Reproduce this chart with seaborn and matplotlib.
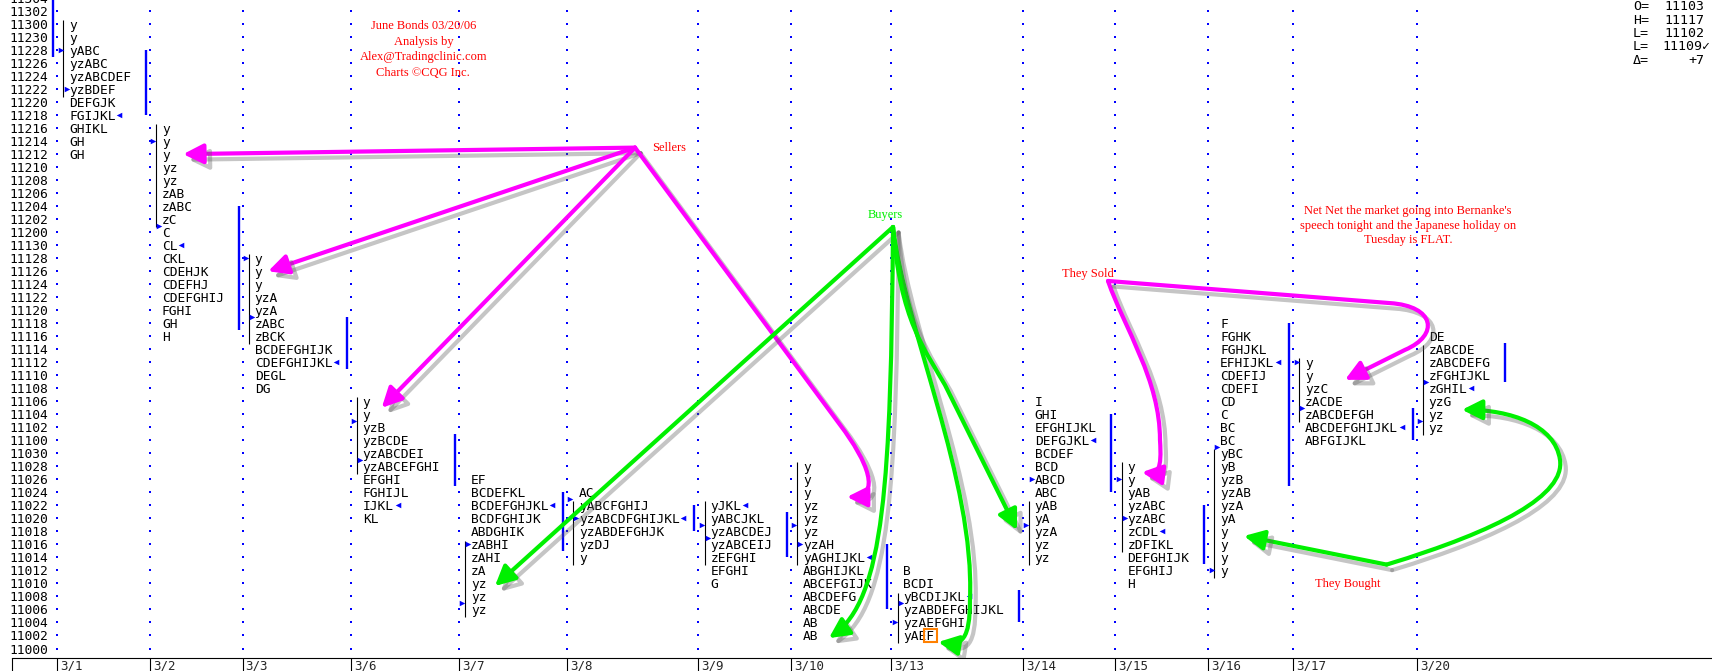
"""Market profile of June Bonds (CQG style) with seller/buyer annotations."""

import matplotlib

matplotlib.use("Agg")
import matplotlib.patheffects as pe
import matplotlib.pyplot as plt
import numpy as np
import pandas as pd
import seaborn as sns
from matplotlib.patches import ArrowStyle, FancyArrowPatch, Rectangle
from matplotlib.path import Path
from matplotlib.transforms import ScaledTranslation

# ---- data ---------------------------------------------------------------
DAYS = ["3/1", "3/2", "3/3", "3/6", "3/7", "3/8", "3/9",
        "3/10", "3/13", "3/14", "3/15", "3/16", "3/17", "3/20"]

# highest price of each day's profile (price in 32nds, e.g. 11216 = 112 16/32)
TOPS = ["11300", "11216", "11128", "11106", "11026", "11024", "11022",
        "11028", "11012", "11106", "11028", "11118", "11112", "11116"]

# TPO letters, one string per 2/32 row, top to bottom
PROFILES = [
    ["y", "y", "yABC", "yzABC", "yzABCDEF", "yzBDEF", "DEFGJK", "FGIJKL",
     "GHIKL", "GH", "GH"],
    ["y", "y", "y", "yz", "yz", "zAB", "zABC", "zC", "C", "CL", "CKL",
     "CDEHJK", "CDEFHJ", "CDEFGHIJ", "FGHI", "GH", "H"],
    ["y", "y", "y", "yzA", "yzA", "zABC", "zBCK", "BCDEFGHIJK",
     "CDEFGHIJKL", "DEGL", "DG"],
    ["y", "y", "yzB", "yzBCDE", "yzABCDEI", "yzABCEFGHI", "EFGHI",
     "FGHIJL", "IJKL", "KL"],
    ["EF", "BCDEFKL", "BCDEFGHJKL", "BCDFGHIJK", "ABDGHIK", "zABHI",
     "zAHI", "zA", "yz", "yz", "yz"],
    ["AC", "yABCFGHIJ", "yzABCDFGHIJKL", "yzABDEFGHJK", "yzDJ", "y"],
    ["yJKL", "yABCJKL", "yzABCDEJ", "yzABCEIJ", "zEFGHI", "EFGHI", "G"],
    ["y", "y", "y", "yz", "yz", "yz", "yzAH", "yAGHIJKL", "ABGHIJKL",
     "ABCEFGIJK", "ABCDEFG", "ABCDE", "AB", "AB"],
    ["B", "BCDI", "yBCDIJKL", "yzABDEFGHIJKL", "yzAEFGHI", "yAEF"],
    ["I", "GHI", "EFGHIJKL", "DEFGJKL", "BCDEF", "BCD", "ABCD", "ABC",
     "yAB", "yA", "yzA", "yz", "yz"],
    ["y", "y", "yAB", "yzABC", "yzABC", "zCDL", "zDFIKL", "DEFGHIJK",
     "EFGHIJ", "H"],
    ["F", "FGHK", "FGHJKL", "EFHIJKL", "CDEFIJ", "CDEFI", "CD", "C", "BC",
     "BC", "yBC", "yB", "yzB", "yzAB", "yzA", "yA", "y", "y", "y", "y"],
    ["y", "y", "yzC", "zACDE", "zABCDEFGH", "ABCDEFGHIJKL", "ABFGIJKL"],
    ["DE", "zABCDE", "zABCDEFG", "zFGHIJKL", "zGHIL", "yzG", "yz", "yz"],
]

OPEN_MARK = ["11228", "11214", "11128", "11103", "11007", "11023", "11019",
             "11019", "11004", "11019", "11026", "11012", "11112", "11103"]
MID_MARK = ["11222", "11201", "11119", "11029", "11016", "11020", "11017",
            "11016", "11007", "11026", "11020", "11031", "11105", "11109"]
CLOSE_MARK = ["11218", "11130", "11112", "11022", "11022", "11020", "11022",
              "11014", "11008", "11100", "11018", "11112", "11102", "11108"]

VA_LOW = ["11218", "11117", "11111", "11025", "11015", "11018", "11014",
          "11006", "11004", "11024", "11013", "11025", "11100", "11109"]
VA_HIGH = ["11228", "11204", "11119", "11101", "11024", "11022", "11021",
           "11016", "11009", "11104", "11022", "11118", "11105", "11115"]
PRIOR_VA = ("11227", "11310")

INFO_KEYS = ["O=", "H=", "L=", "L=", "Δ="]
INFO_VALUES = ["11103", "11117", "11102", "11109✓", "+7"]

# annotation arrows: (code, day, letter offset, price)
SELL = ("M", "3/8", 8.8, 11213)
BUY = ("M", "3/13", 0.2, 11200.8)
SOLD = ("M", "3/15", -0.97, 11124.5)
BOUGHT = ("M", "3/17", 12.1, 11012.9)
MAGENTA_ARROWS = [
    [SELL, ("L", "3/2", 4.3, 11212)],
    [SELL, ("L", "3/3", 3.3, 11126)],
    [SELL, ("L", "3/6", 4.0, 11105)],
    [SELL, ("L", "3/10", 6.33, 11102.4), ("C", "3/10", 9.96, 11028.7),
     ("C", "3/10", 11.77, 11023.3), ("C", "3/10", 7.24, 11023.3)],
    [SOLD, ("C", "3/15", 1.23, 11117.0), ("C", "3/15", 5.76, 11109.3),
     ("C", "3/15", 5.76, 11100.05), ("C", "3/15", 6.02, 11027.4),
     ("C", "3/15", 5.5, 11026.8), ("C", "3/15", 3.43, 11027.1)],
    [SOLD, ("L", "3/17", 12.53, 11121.1), ("C", "3/17", 18.35, 11120.65),
     ("C", "3/17", 19.0, 11116.2), ("C", "3/17", 14.47, 11113.9),
     ("L", "3/17", 6.71, 11109.3)],
]
GREEN_ARROWS = [
    [BUY, ("L", "3/7", 4.66, 11009.6)],
    [BUY, ("C", "3/13", -0.1, 11025.9), ("C", "3/13", -0.84, 11007.5),
     ("C", "3/10", 4.9, 11001.6)],
    [BUY, ("C", "3/13", 1.75, 11117.0), ("C", "3/13", 10.81, 11025.9),
     ("C", "3/13", 10.16, 11007.5), ("C", "3/13", 10.16, 11001.3),
     ("C", "3/13", 9.13, 11000.4), ("C", "3/13", 6.06, 11001.0)],
    [BUY, ("C", "3/13", 1.1, 11118.5), ("C", "3/13", 4.34, 11113.9),
     ("C", "3/13", 6.93, 11108.5), ("L", "3/14", -0.75, 11018.2)],
    [BOUGHT, ("L", "3/16", 4.64, 11017.3)],
    [BOUGHT, ("C", "3/20", 10.78, 11018.2), ("C", "3/20", 19.2, 11023.6),
     ("C", "3/20", 18.55, 11029.0), ("C", "3/20", 17.9, 11102.4),
     ("C", "3/20", 12.08, 11104.7), ("C", "3/20", 5.86, 11104.7)],
]

# ---- layout -------------------------------------------------------------
W, H = 1712, 671
CHAR = 7.724            # px per letter column
FIRST_COL = 57.3 / CHAR  # first day divider, in letter columns
LETTER_DX = 1.55
BLUE = "#0000ff"
RED = "#ff0000"
MAGENTA = "#ff00ff"
GREEN = "#00f000"
MONO = ["DejaVu Sans Mono", "DejaVu Sans"]
SERIF = ["Liberation Serif", "DejaVu Serif"]


def tick(price) -> float:
    p = float(price)
    handle = int(p // 100)
    return (handle - 110) * 32 + (p - handle * 100)


def label(t: int) -> str:
    return f"{110 + t // 32}{t % 32:02d}"


widths = [max(len(s) for s in prof) + 4 for prof in PROFILES]
starts = FIRST_COL + np.concatenate([[0], np.cumsum(widths)])
day_x = dict(zip(DAYS, starts[:-1]))


def point(day, dx, price):
    return day_x[day] + dx, tick(price)


def arrow(ax, spec, color):
    verts, codes = [], []
    for code, day, dx, price in spec:
        verts.append(point(day, dx, price))
        codes.append({"M": Path.MOVETO, "L": Path.LINETO, "C": Path.CURVE4}[code])
    patch = FancyArrowPatch(
        path=Path(verts, codes),
        arrowstyle=ArrowStyle("-|>", head_length=12, head_width=6),
        color=color, lw=3.0, capstyle="round", joinstyle="round",
        transform=ax.transData, zorder=6,
    )
    # stroke-only shadow so curved shafts are not filled in
    patch.set_path_effects([
        pe.SimpleLineShadow(offset=(4, -4), shadow_color="0.35", alpha=0.35),
        pe.Normal(),
    ])
    ax.add_patch(patch)


def main() -> None:
    sns.set_theme(style="white")
    plt.rcParams["font.family"] = MONO

    fig = plt.figure(figsize=(W / 100, H / 100), dpi=100)
    fig.patch.set_facecolor("white")
    ylo, yhi = -1.46, 101.2
    ax_h = (yhi - ylo) * 6.505
    ax = fig.add_axes([12 / W, 13 / H, (W - 12) / W, ax_h / H])
    ax.set_facecolor("white")
    ax.set_xlim(12 / CHAR, W / CHAR)
    ax.set_ylim(ylo, yhi)

    # blue dotted day dividers
    dots = pd.DataFrame(
        [(x, t) for x in starts[:-1] for t in range(0, 101, 2)], columns=["x", "t"]
    )
    sns.scatterplot(data=dots, x="x", y="t", marker="s", s=2.2, color=BLUE,
                    linewidth=0, ax=ax, legend=False, zorder=1)

    # prior day value area at the left edge
    ax.plot([FIRST_COL - 0.52] * 2, [tick(PRIOR_VA[0]), tick(PRIOR_VA[1])],
            color=BLUE, lw=1.7, solid_capstyle="butt")

    opens, mids, closes = [], [], []
    for i, (prof, top) in enumerate(zip(PROFILES, TOPS)):
        x0 = starts[i]
        t0 = tick(top)
        rows = [t0 - 2 * j for j in range(len(prof))]
        for s, t in zip(prof, rows):
            ax.text(x0 + LETTER_DX, t, s, ha="left", va="center_baseline",
                    fontsize=9.24, family=MONO, color="black", zorder=3)
        yz = [t for s, t in zip(prof, rows) if "y" in s or "z" in s]
        ax.plot([x0 + 0.8] * 2, [max(yz) + 0.6, min(yz) - 1.2], color="black",
                lw=0.8, solid_capstyle="butt", zorder=2)
        ax.plot([starts[i + 1] - 0.52] * 2, [tick(VA_LOW[i]), tick(VA_HIGH[i])],
                color=BLUE, lw=1.7, solid_capstyle="butt", zorder=2)
        opens.append((x0 + 0.44, tick(OPEN_MARK[i])))
        mids.append((x0 + 1.2, tick(MID_MARK[i])))
        tc = tick(CLOSE_MARK[i])
        row_text = prof[int(round((t0 - tc) / 2))]
        closes.append((x0 + LETTER_DX + len(row_text) + 0.5, tc))

    for pts, mk in ((opens, ">"), (mids, ">"), (closes, "<")):
        xs, ys = zip(*pts)
        ax.scatter(xs, ys, marker=mk, s=16, color=BLUE, linewidths=0, zorder=4)

    # highlighted F on 3/13
    fx, fy = point("3/13", LETTER_DX + 3.5, "11002")
    ax.add_patch(Rectangle((fx - 0.86, fy - 1.02), 1.72, 2.04, fill=False,
                           edgecolor="#ff8000", lw=1.5, zorder=5))

    for spec in MAGENTA_ARROWS:
        arrow(ax, spec, MAGENTA)
    for spec in GREEN_ARROWS:
        arrow(ax, spec, GREEN)

    # annotations
    tx, ty = point("3/6", 9.4, 11300.6)
    ax.text(tx, ty, "June Bonds 03/20/06\nAnalysis by\nAlex@Tradingclinic.com\n"
            "Charts ©CQG Inc.", ha="center", va="top", color=RED, family=SERIF,
            fontsize=9, linespacing=1.4, zorder=7)
    ax.text(*point("3/8", 11.0, 11213), "Sellers", ha="left", va="center",
            color=RED, family=SERIF, fontsize=9, zorder=7)
    ax.text(*point("3/13", -0.84, 11202.6), "Buyers", ha="center", va="center",
            color=GREEN, family=SERIF, fontsize=9, zorder=7)
    ax.text(*point("3/17", 14.9, 11204.2),
            "Net Net the market going into Bernanke's\n"
            "speech tonight and the Japanese holiday on\nTuesday is FLAT.",
            ha="center", va="top", color=RED, family=SERIF, fontsize=9,
            linespacing=1.3, zorder=7)
    ax.text(*point("3/14", 8.44, 11125.6), "They Sold", ha="center",
            va="center", color=RED, family=SERIF, fontsize=9, zorder=7)
    ax.text(*point("3/17", 7.09, 11009.9), "They Bought", ha="center",
            va="center", color=RED, family=SERIF, fontsize=9, zorder=7)

    # price axis
    yt = list(range(0, 101, 2))
    ax.set_yticks(yt, labels=[label(t) for t in yt])
    ax.tick_params(axis="y", length=0, pad=-26.1, labelsize=9.24,
                   labelcolor="black")
    for lab in ax.get_yticklabels():
        lab.set_family(MONO)

    # date axis
    xt = [12 / CHAR + 0.02] + list(starts[:-1])
    ax.set_xticks(xt, labels=[""] + DAYS)
    ax.tick_params(axis="x", direction="out", length=9.4, width=0.8,
                   color="black", pad=-8.3, labelsize=9.0, bottom=True)
    shift = ScaledTranslation(3 / 100, 0, fig.dpi_scale_trans)
    for lab in ax.get_xticklabels():
        lab.set_horizontalalignment("left")
        lab.set_verticalalignment("top")
        lab.set_family(MONO)
        lab.set_transform(lab.get_transform() + shift)
    ax.set_xlabel("")
    ax.set_ylabel("")
    for side in ("top", "right", "left"):
        ax.spines[side].set_visible(False)
    ax.spines["bottom"].set_color("black")
    ax.spines["bottom"].set_linewidth(0.8)

    # O/H/L box at top right
    for k, (key, val) in enumerate(zip(INFO_KEYS, INFO_VALUES)):
        yy = 1 - (7 + 13.3 * k) / H
        fig.text(1633 / W, yy, key, ha="left", va="center", fontsize=9.5,
                 family=MONO, color="black")
        right = 1710 if val.endswith("✓") else 1704
        fig.text(right / W, yy, val, ha="right", va="center", fontsize=9.5,
                 family=MONO, color="black")

    fig.savefig("out.png", dpi=100, facecolor="white")
    plt.close(fig)


if __name__ == "__main__":
    main()
